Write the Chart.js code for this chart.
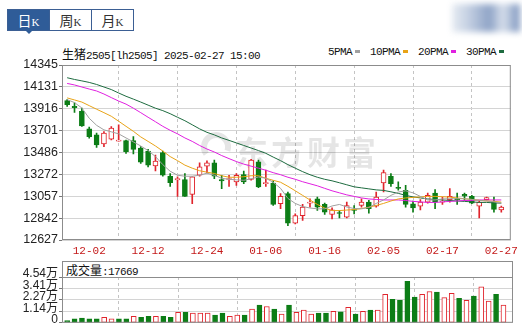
<!DOCTYPE html>
<html>
<head>
<meta charset="utf-8">
<script src="https://cdn.jsdelivr.net/npm/chart.js@4.4.1/dist/chart.umd.min.js"></script>
<style>
  body { margin: 0; width: 522px; height: 331px; background: #fff; position: relative; overflow: hidden; }
  canvas { position: absolute; left: 0; }
  .tabs { position: absolute; left: 7px; top: 9px; height: 22px; display: flex; border: 1px solid #3b5f94; box-sizing: border-box; }
  .tab { width: 41px; text-align: center; font: 14px "Noto Sans CJK SC"; line-height: 20px; color: #333; border-left: 1px solid #3b5f94; }
  .tab:first-child { border-left: none; }
  .tab.on { background: #2f5c98; color: #fff; }
  .tab span { font: 11px "Liberation Serif"; }
  .caret { position: absolute; left: 25px; top: 30px; width: 0; height: 0; border-left: 4px solid transparent; border-right: 4px solid transparent; border-top: 4px solid #2f5c98; }
  .blur { position: absolute; left: 452px; top: 4px; width: 68px; height: 28px; filter: blur(3px);
          background: linear-gradient(to right, #e6ebf2 0%, #c3cfe2 25%, #8ea3c6 55%, #d8e0ec 75%, #7a93bd 100%); }
  .title { position: absolute; left: 62px; top: 45px; font: 11px "Liberation Mono", "Noto Sans CJK SC"; letter-spacing: -0.6px; color: #111; white-space: nowrap; }
  .title b { font: 12px "Noto Sans CJK SC"; letter-spacing: 0; font-weight: normal; }
  .legend { position: absolute; left: 328px; top: 46px; font: 11px "Liberation Mono"; letter-spacing: -0.6px; color: #111; white-space: nowrap; }
  .legend i { display: inline-block; width: 5px; height: 3px; margin: 0 10px 2px 3px; vertical-align: middle; }
  .volhead { position: absolute; left: 62px; top: 261px; width: 451px; height: 17px; box-sizing: border-box;
             border: 1px solid #8c8c8c; border-bottom: none; font: 12px "Noto Sans CJK SC"; line-height: 15px; padding-left: 3px; color: #111; }
  .volhead span { font: 11px "Liberation Mono"; letter-spacing: -0.6px; }
</style>
</head>
<body>
<div class="tabs"><div class="tab on">日<span>K</span></div><div class="tab">周<span>K</span></div><div class="tab">月<span>K</span></div></div>
<div class="caret"></div>
<div class="blur"></div>
<div class="title"><b>生猪</b>2505[lh2505] 2025-02-27 15:00</div>
<div class="legend">5PMA<i style="background:#a0a0a0"></i>10PMA<i style="background:#e8a317"></i>20PMA<i style="background:#e020e0"></i>30PMA<i style="background:#1d6b3f"></i></div>
<div class="volhead">成交量<span>:17669</span></div>
<canvas id="priceChart" width="522" height="220" style="top:40px"></canvas>
<canvas id="volChart" width="522" height="76" style="top:255px"></canvas>
<script>
// ── data ──────────────────────────────────────────────────────────────────

const dates = [
  "11-27", "11-28", "11-29", "12-02", "12-03", "12-04", "12-05", "12-06", "12-09", "12-10",
  "12-11", "12-12", "12-13", "12-16", "12-17", "12-18", "12-19", "12-20", "12-23", "12-24",
  "12-25", "12-26", "12-27", "12-30", "12-31", "01-02", "01-03", "01-06", "01-07", "01-08",
  "01-09", "01-10", "01-13", "01-14", "01-15", "01-16", "01-17", "01-20", "01-21", "01-22",
  "01-23", "01-24", "01-27", "02-05", "02-06", "02-07", "02-10", "02-11", "02-12", "02-13",
  "02-14", "02-17", "02-18", "02-19", "02-20", "02-21", "02-24", "02-25", "02-26", "02-27",
];
const open = [
  13996, 13939, 13890, 13718, 13659, 13570, 13616, 13597, 13603, 13603,
  13530, 13501, 13355, 13484, 13253, 13218, 13221, 13075, 13263, 13352,
  13385, 13221, 13221, 13197, 13270, 13221, 13395, 13180, 13187, 12983,
  13082, 12791, 12867, 12989, 13032, 12976, 12877, 12893, 12851, 12923,
  12966, 12999, 12959, 13187, 13253, 13141, 13115, 12983, 12959, 12999,
  13088, 12999, 13023, 13032, 13075, 13055, 12959, 13023, 12999, 12923,
];
const close = [
  13956, 13926, 13748, 13642, 13560, 13676, 13725, 13609, 13494, 13517,
  13392, 13362, 13402, 13263, 13191, 13230, 13055, 13246, 13345, 13385,
  13253, 13207, 13230, 13263, 13197, 13412, 13147, 13190, 12976, 13055,
  12791, 12867, 12950, 12999, 12950, 12900, 12923, 12887, 12966, 12917,
  12999, 12934, 13048, 13290, 13181, 13134, 12976, 12943, 12999, 13065,
  12999, 13009, 13055, 13023, 13058, 12989, 12999, 13043, 12927, 12950,
];
const high = [
  14006, 13973, 13923, 13735, 13676, 13692, 13741, 13758, 13609, 13642,
  13543, 13517, 13461, 13501, 13280, 13246, 13280, 13246, 13385, 13405,
  13412, 13263, 13263, 13280, 13303, 13418, 13412, 13313, 13207, 13082,
  13098, 12884, 12976, 13032, 13048, 12989, 12943, 12917, 12999, 12966,
  13032, 13016, 13098, 13313, 13280, 13197, 13164, 13009, 13023, 13088,
  13121, 13048, 13131, 13088, 13088, 13065, 13016, 13048, 13048, 12959,
];
const low = [
  13939, 13880, 13741, 13626, 13537, 13543, 13609, 13597, 13478, 13471,
  13379, 13345, 13306, 13253, 13154, 13055, 13055, 12983, 13253, 13286,
  13230, 13131, 13154, 13164, 13181, 13214, 13141, 13154, 12966, 12934,
  12768, 12785, 12818, 12950, 12917, 12877, 12834, 12844, 12844, 12884,
  12950, 12890, 12950, 13098, 13154, 13115, 12950, 12900, 12923, 12989,
  12934, 12976, 12999, 12976, 13016, 12983, 12844, 13019, 12900, 12900,
];
const volume = [
  2230, 3880, 4560, 3880, 3880, 5530, 3880, 3880, 3880, 6500,
  5530, 6500, 6500, 6500, 5530, 10380, 10380, 9700, 9700, 9700,
  7760, 9700, 6500, 7760, 7760, 13580, 17460, 16200, 13580, 8730,
  17460, 10380, 12610, 8730, 9700, 9700, 11350, 10960, 15230, 8730,
  11350, 12610, 12610, 28130, 23280, 22310, 41030, 25510, 28130, 31040,
  30360, 24930, 29100, 24250, 22310, 26480, 35600, 21630, 28130, 17669,
];
const ma5 = [
  14005, 13976, 13923, 13822, 13753, 13708, 13689, 13669, 13629, 13590,
  13550, 13505, 13446, 13367, 13302, 13263, 13253, 13253, 13263, 13283,
  13263, 13233, 13223, 13218, 13213, 13228, 13246, 13233, 13194, 13134,
  13035, 12986, 12956, 12941, 12933, 12933, 12961, 12976, 12951, 12936,
  12933, 12946, 12986, 13020, 13065, 13098, 13110, 13090, 13055, 13020,
  13020, 13030, 13032, 13032, 13032, 13025, 13015, 13010, 13001, 12989,
];
const ma10 = [
  14022, 14002, 13981, 13946, 13911, 13877, 13842, 13793, 13743, 13694,
  13639, 13595, 13550, 13500, 13446, 13406, 13362, 13332, 13307, 13293,
  13280, 13258, 13243, 13243, 13248, 13258, 13258, 13233, 13213, 13194,
  13154, 13110, 13065, 13020, 12976, 12941, 12916, 12916, 12921, 12926,
  12936, 12949, 12966, 12986, 13010, 13030, 13040, 13045, 13050, 13055,
  13055, 13052, 13048, 13040, 13032, 13025, 13017, 13010, 13006, 12999,
];
const ma20 = [
  14164, 14149, 14129, 14109, 14090, 14060, 14025, 13991, 13961, 13921,
  13877, 13832, 13788, 13743, 13704, 13669, 13629, 13595, 13555, 13520,
  13491, 13456, 13426, 13397, 13372, 13352, 13332, 13312, 13288, 13268,
  13243, 13223, 13199, 13179, 13159, 13134, 13110, 13090, 13070, 13055,
  13040, 13030, 13025, 13020, 13020, 13020, 13015, 13006, 13001, 12996,
  12996, 13001, 13006, 13010, 13015, 13015, 13020, 13020, 13020, 13020,
];
const ma30 = [
  14220, 14203, 14189, 14174, 14154, 14129, 14104, 14070, 14038, 14010,
  13981, 13951, 13921, 13897, 13867, 13832, 13798, 13758, 13718, 13684,
  13659, 13629, 13605, 13580, 13555, 13530, 13505, 13478, 13441, 13406,
  13367, 13332, 13298, 13268, 13243, 13223, 13208, 13189, 13169, 13149,
  13139, 13129, 13119, 13114, 13100, 13085, 13065, 13050, 13040, 13030,
  13025, 13020, 13015, 13010, 13006, 13001, 12996, 12996, 12991, 12989,
];

const priceTicks = [14345, 14131, 13916, 13701, 13486, 13272, 13057, 12842, 12627];
const dateTickIdx = [3, 11, 19, 27, 35, 43, 51, 59];
const volTicks = [0, 11350, 22700, 34050, 45400];
const volTickLabels = ["0", "1.14万", "2.27万", "3.41万", "4.54万"];

// ── helpers ───────────────────────────────────────────────────────────────

const RED = "#e0242c";
const GREEN = "#0c7d16";
const idx = dates.map((_, i) => i);
const candleUp = (i) => close[i] >= open[i];
const volUp = (i) => i > 0 && close[i] >= close[i - 1];
const X_MIN = -0.7;
const X_MAX = 60.29;

const framePlugin = {
  id: "frame",
  afterDraw(chart) {
    const { ctx, chartArea: a } = chart;
    ctx.save();
    ctx.strokeStyle = "#8c8c8c";
    ctx.lineWidth = 1;
    ctx.strokeRect(a.left + 0.5, a.top + 0.5, a.width - 1, a.height - 1);
    ctx.restore();
  },
};

const watermarkPlugin = {
  id: "watermark",
  beforeDatasetsDraw(chart) {
    const { ctx } = chart;
    ctx.save();
    ctx.fillStyle = "rgba(0,0,0,0.1)";
    ctx.strokeStyle = "rgba(0,0,0,0.1)";
    ctx.lineWidth = 6;
    ctx.beginPath();
    ctx.arc(216, 107, 12, Math.PI * 0.8, Math.PI * 2.1);
    ctx.stroke();
    ctx.font = 'bold 33px "Noto Sans CJK SC"';
    ctx.letterSpacing = "3px";
    ctx.textBaseline = "middle";
    ctx.fillText("东方财富", 235, 112);
    ctx.restore();
  },
};

function xScale(showLabels) {
  return {
    type: "linear",
    min: X_MIN,
    max: X_MAX,
    offset: false,
    afterBuildTicks: (s) => { s.ticks = dateTickIdx.map((v) => ({ value: v })); },
    afterFit: (s) => { s.height = showLabels ? 20 : 7; },
    grid: { color: "#c4c4c4", drawTicks: false },
    border: { display: false, dash: [3, 3] },
    ticks: {
      display: showLabels,
      autoSkip: false,
      maxRotation: 0,
      padding: 4,
      color: "#c41a1a",
      font: { family: "Liberation Mono", size: 11 },
      callback: (v) => dates[v],
    },
  };
}

// ── price chart ───────────────────────────────────────────────────────────

function maDataset(values, color) {
  return {
    type: "line",
    data: idx.map((i) => ({ x: i, y: values[i] })),
    borderColor: color,
    borderWidth: 1,
    pointRadius: 0,
    tension: 0,
    order: 0,
  };
}

new Chart(document.getElementById("priceChart"), {
  type: "bar",
  data: {
    datasets: [
      {
        // wicks
        data: idx.map((i) => ({ x: i, y: [low[i], high[i]] })),
        backgroundColor: (c) => (candleUp(c.dataIndex) ? RED : GREEN),
        borderWidth: 0,
        barThickness: 1,
        grouped: false,
        order: 2,
      },
      {
        // bodies
        data: idx.map((i) => ({ x: i, y: [open[i], close[i]] })),
        backgroundColor: (c) => (candleUp(c.dataIndex) ? "#fff" : GREEN),
        borderColor: (c) => (candleUp(c.dataIndex) ? RED : GREEN),
        borderWidth: 1,
        borderSkipped: false,
        barThickness: 5,
        minBarLength: 1,
        grouped: false,
        order: 1,
      },
      maDataset(ma5, "#a0a0a0"),
      maDataset(ma10, "#e8a317"),
      maDataset(ma20, "#e020e0"),
      maDataset(ma30, "#1d6b3f"),
    ],
  },
  options: {
    responsive: false,
    animation: false,
    events: [],
    layout: { padding: { top: 25, right: 9, left: 0, bottom: 0 } },
    plugins: { legend: { display: false }, tooltip: { enabled: false } },
    scales: {
      x: xScale(true),
      y: {
        min: 12627,
        max: 14345,
        afterBuildTicks: (s) => { s.ticks = priceTicks.map((v) => ({ value: v })); },
        afterFit: (s) => { s.width = 62; },
        grid: { color: "#d4d4d4", tickLength: 3, tickColor: "#777" },
        border: { display: false },
        ticks: {
          autoSkip: false,
          padding: 1,
          color: "#222",
          font: { family: "Liberation Sans", size: 12.5 },
          callback: (v) => String(v),
        },
      },
    },
  },
  plugins: [watermarkPlugin, framePlugin],
});

// ── volume chart ──────────────────────────────────────────────────────────

new Chart(document.getElementById("volChart"), {
  type: "bar",
  data: {
    datasets: [
      {
        data: idx.map((i) => ({ x: i, y: volume[i] })),
        backgroundColor: (c) => (volUp(c.dataIndex) ? "#fff" : GREEN),
        borderColor: (c) => (volUp(c.dataIndex) ? RED : GREEN),
        borderWidth: 1,
        borderSkipped: false,
        barThickness: 5,
      },
    ],
  },
  options: {
    responsive: false,
    animation: false,
    events: [],
    layout: { padding: { top: 22, right: 9, left: 0, bottom: 0 } },
    plugins: { legend: { display: false }, tooltip: { enabled: false } },
    scales: {
      x: xScale(false),
      y: {
        min: 0,
        max: 45400,
        afterBuildTicks: (s) => { s.ticks = volTicks.map((v) => ({ value: v })); },
        afterFit: (s) => { s.width = 62; },
        grid: { color: "#d4d4d4", tickLength: 3, tickColor: "#777" },
        border: { display: false },
        ticks: {
          autoSkip: false,
          padding: 1,
          labelOffset: -3,
          color: "#222",
          font: { family: "Liberation Sans, Noto Sans CJK SC", size: 12 },
          callback: (v, i) => volTickLabels[i],
        },
      },
    },
  },
  plugins: [framePlugin],
});
</script>
</body>
</html>
